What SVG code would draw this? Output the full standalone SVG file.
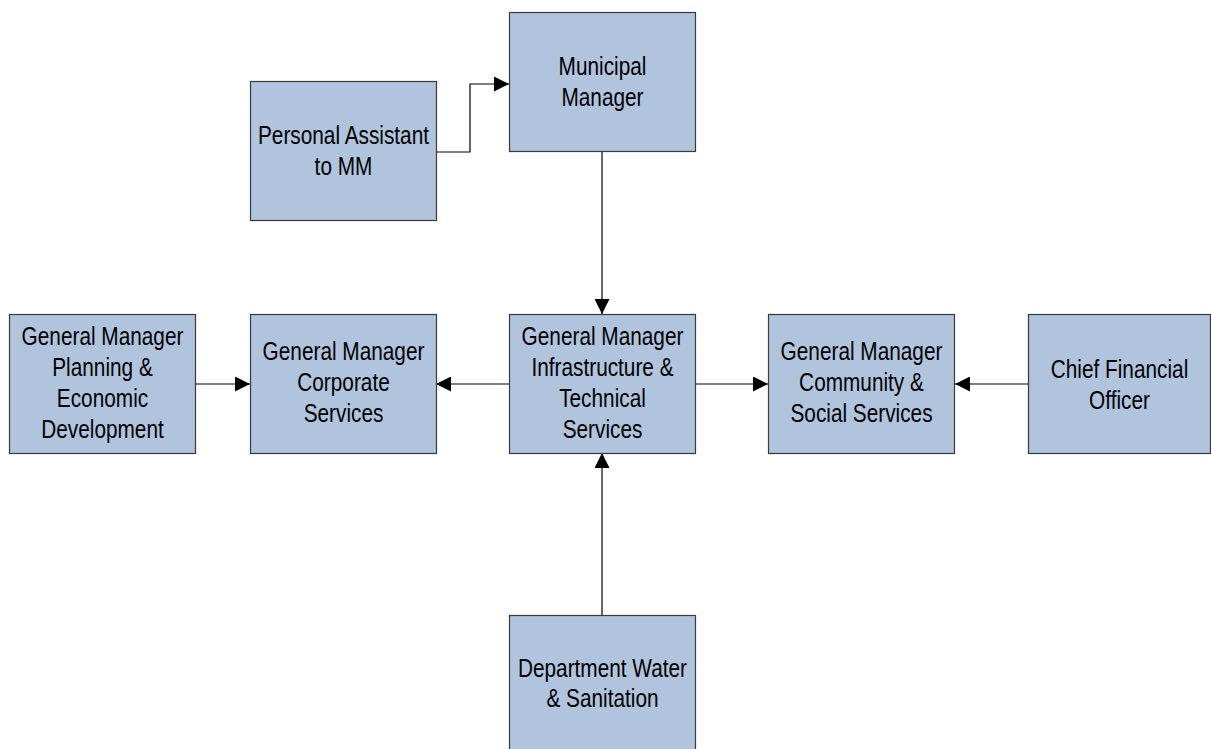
<svg xmlns="http://www.w3.org/2000/svg" width="1211" height="749" viewBox="0 0 1211 749">
<defs>
<style>
.box{fill:#B0C4DE;stroke:#3a3a3a;stroke-width:1.2}
.lbl{font-family:"Liberation Sans",Arial,sans-serif;font-size:26px;fill:#000;text-anchor:middle}
.conn{fill:none;stroke:#000;stroke-width:1.2}
</style>
<marker id="ah" viewBox="0 0 15 15" refX="15" refY="7.5" markerWidth="15" markerHeight="15" markerUnits="userSpaceOnUse" orient="auto">
<path d="M0,0 L15,7.5 L0,15 Z" fill="#000"/>
</marker>
</defs>
<rect width="1211" height="749" fill="#fff"/>
<g id="connectors">
<path class="conn" d="M436,152 H470 V84 H509" marker-end="url(#ah)"/>
<path class="conn" d="M602,152 V314" marker-end="url(#ah)"/>
<path class="conn" d="M195,384 H250" marker-end="url(#ah)"/>
<path class="conn" d="M509,384 H436" marker-end="url(#ah)"/>
<path class="conn" d="M695,384 H768" marker-end="url(#ah)"/>
<path class="conn" d="M1028,384 H955" marker-end="url(#ah)"/>
<path class="conn" d="M602,615 V453" marker-end="url(#ah)"/>
</g>
<g id="municipal-manager">
<rect class="box" x="509.5" y="12.5" width="186" height="139"/>
<text class="lbl" transform="translate(602.5,0) scale(0.8,1)"><tspan x="0" y="75">Municipal</tspan><tspan x="0" y="106">Manager</tspan></text>
</g>
<g id="personal-assistant">
<rect class="box" x="250.5" y="81.5" width="186" height="139"/>
<text class="lbl" transform="translate(343.5,0) scale(0.8,1)"><tspan x="0" y="144">Personal Assistant</tspan><tspan x="0" y="175">to MM</tspan></text>
</g>
<g id="gm-planning">
<rect class="box" x="9.5" y="314.5" width="186" height="139"/>
<text class="lbl" transform="translate(102.5,0) scale(0.8,1)"><tspan x="0" y="345">General Manager</tspan><tspan x="0" y="376">Planning &amp;</tspan><tspan x="0" y="407">Economic</tspan><tspan x="0" y="438">Development</tspan></text>
</g>
<g id="gm-corporate">
<rect class="box" x="250.5" y="314.5" width="186" height="139"/>
<text class="lbl" transform="translate(343.5,0) scale(0.8,1)"><tspan x="0" y="360">General Manager</tspan><tspan x="0" y="391">Corporate</tspan><tspan x="0" y="422">Services</tspan></text>
</g>
<g id="gm-infrastructure">
<rect class="box" x="509.5" y="314.5" width="186" height="139"/>
<text class="lbl" transform="translate(602.5,0) scale(0.8,1)"><tspan x="0" y="345">General Manager</tspan><tspan x="0" y="376">Infrastructure &amp;</tspan><tspan x="0" y="407">Technical</tspan><tspan x="0" y="438">Services</tspan></text>
</g>
<g id="gm-community">
<rect class="box" x="768.5" y="314.5" width="186" height="139"/>
<text class="lbl" transform="translate(861.5,0) scale(0.8,1)"><tspan x="0" y="360">General Manager</tspan><tspan x="0" y="391">Community &amp;</tspan><tspan x="0" y="422">Social Services</tspan></text>
</g>
<g id="cfo">
<rect class="box" x="1028.5" y="314.5" width="182" height="139"/>
<text class="lbl" transform="translate(1119.5,0) scale(0.8,1)"><tspan x="0" y="378">Chief Financial</tspan><tspan x="0" y="409">Officer</tspan></text>
</g>
<g id="water-sanitation">
<rect class="box" x="509.5" y="615.5" width="186" height="145"/>
<text class="lbl" transform="translate(602.5,0) scale(0.8,1)"><tspan x="0" y="677">Department Water</tspan><tspan x="0" y="707">&amp; Sanitation</tspan></text>
</g>
</svg>
